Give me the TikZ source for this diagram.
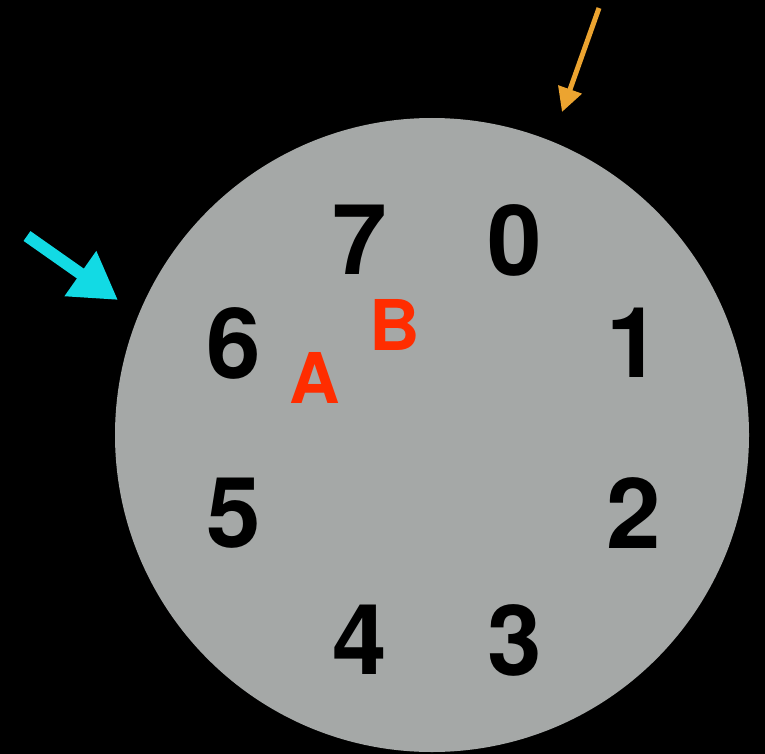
\documentclass[tikz,border=0pt]{standalone}
\usepackage{fontspec}
\setmainfont{TeX Gyre Heros}
\usetikzlibrary{arrows.meta}
\definecolor{diskgray}{RGB}{165, 168, 167}
\definecolor{markred}{RGB}{255, 45, 0}
\definecolor{cyan1}{RGB}{18, 218, 228}
\definecolor{orange1}{RGB}{236, 164, 48}
\tikzset{
  digit/.style={inner sep=0pt, font=\fontsize{98}{98}\selectfont\bfseries},
  letternode/.style={inner sep=0pt, text=markred, font=\fontsize{70}{70}\selectfont\bfseries},
  cyanarrow/.style={-{Triangle[length=46pt, width=52pt]}, line width=12pt, cyan1},
  orangearrow/.style={-{Triangle[length=24pt, width=24pt]}, line width=5pt, orange1},
}
\begin{document}
\begin{tikzpicture}[x=1pt, y=-1pt]
  \fill[black] (0,0) rectangle (765,754);
  \useasboundingbox (0,0) rectangle (765,754);
  \node[circle, fill=diskgray, minimum size=634pt, inner sep=0pt] (disk) at (432,435) {};
  \foreach \n/\x/\y in {0/515/240, 1/634/343, 2/634/513, 3/515/640, 4/360/640, 5/234/513, 6/234/343, 7/360/240}
    \node[digit] (d\n) at (\x,\y) {\n};
  \node[letternode] (la) at (315,378) {A};
  \node[letternode] (lb) at (395,325) {B};
  \coordinate (ctail) at (27,236);
  \coordinate (ctip) at (118,300);
  \coordinate (otail) at (599,8);
  \coordinate (otip) at (562,112);
  \draw[cyanarrow] (ctail) -- (ctip);
  \draw[orangearrow] (otail) -- (otip);
\end{tikzpicture}
\end{document}
